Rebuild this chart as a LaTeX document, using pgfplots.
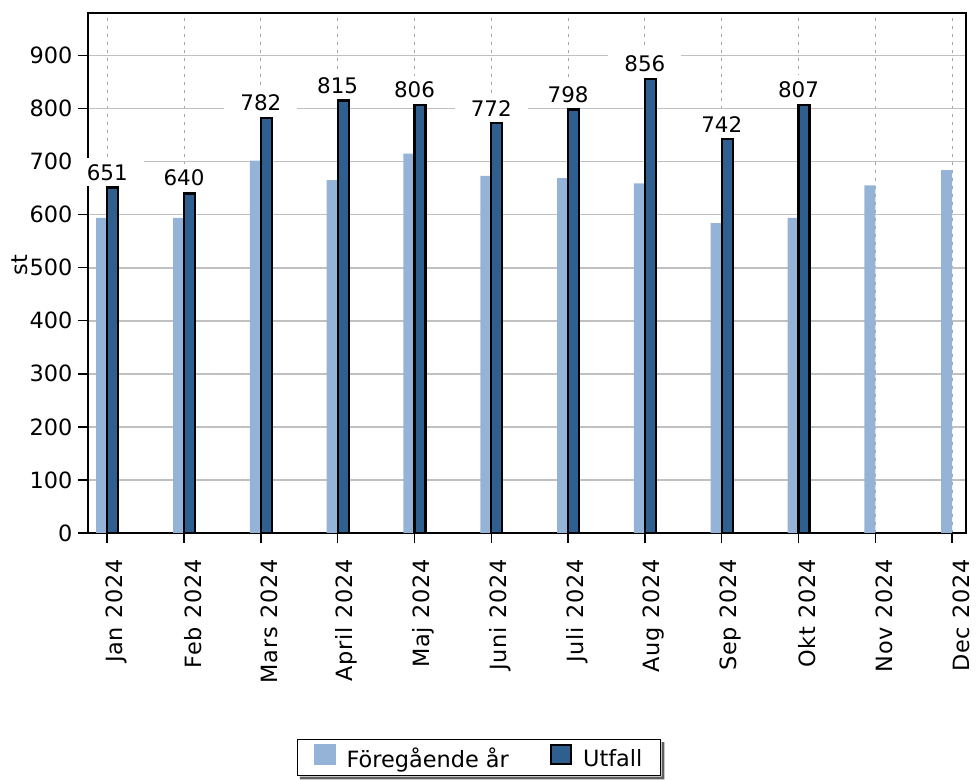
\documentclass[border=0pt]{standalone}
\usepackage{fontspec}
\setmainfont{DejaVu Sans}
\usepackage{pgfplots}
\pgfplotsset{compat=1.18}
\definecolor{lightbar}{RGB}{149,179,215}
\definecolor{darkbar}{RGB}{46,95,143}
\definecolor{gridgray}{RGB}{192,192,192}
\newcommand{\chfont}{\fontsize{22.5}{26}\selectfont}
\newcommand{\lbfont}{\fontsize{21.5}{25}\selectfont}
\newcommand{\xlfont}{\fontsize{22.5}{26}\selectfont\addfontfeature{LetterSpace=3.5}}
\begin{document}
\begin{tikzpicture}
\begin{axis}[
  name=ax,
  scale only axis, width=878bp, height=520bp,
  xmin=-0.25, xmax=11.18, ymin=0, ymax=980,
  ybar=0pt, bar width=11bp,
  xtick={0,...,11},
  xticklabels={Jan 2024,Feb 2024,Mars 2024,April 2024,Maj 2024,Juni 2024,Juli 2024,Aug 2024,Sep 2024,Okt 2024,Nov 2024,Dec 2024},
  ytick={0,100,...,900},
  xtick pos=left, ytick pos=left,
  tick align=outside, major tick length=10bp,
  tick style={black, line width=1.5bp},
  axis line style={black, line width=2.2bp},
  xmajorgrids, ymajorgrids,
  x grid style={gray!70, line width=1bp, dash pattern=on 3bp off 5bp},
  y grid style={gridgray, line width=1.7bp},
  /pgf/number format/assume math mode=true,
  /pgf/number format/1000 sep={},
  tick label style={font=\chfont},
  y tick label style={xshift=-2bp},
  x tick label style={xshift=9bp, yshift=-13bp, rotate=90, anchor=east, font=\xlfont},
  ylabel={st},
  ylabel style={at={(axis description cs:-0.0775,0.515)}, anchor=center, font=\chfont},
  legend style={name=leg, at={(0.4453,-0.4317)}, anchor=center, legend columns=2,
    draw=black, line width=1.2bp, fill=white, font=\chfont,
    /tikz/every odd column/.append style={column sep=9bp},
    /tikz/every even column/.append style={column sep=39bp},
    inner xsep=16bp, inner ysep=4bp},
  clip=false,
]
\addplot[fill=lightbar, draw=none,
  legend image code/.code={\fill[lightbar] (0bp,-6bp) rectangle (22bp,15bp);}]
  coordinates {(0,594) (1,594) (2,702) (3,665) (4,715) (5,673) (6,669) (7,659) (8,584) (9,594) (10,655) (11,684)};
\addlegendentry{Föregående år}
\addplot[fill=darkbar, draw=black, line width=2.2bp,
  legend image code/.code={\draw[fill=darkbar, draw=black, line width=2.2bp] (1bp,-5bp) rectangle (21bp,14bp);},
  nodes near coords,
  every node near coord/.style={fill=white, inner xsep=16bp, inner ysep=6bp, anchor=south, font=\lbfont, text=black, draw=none}]
  coordinates {(0,651) (1,640) (2,782) (3,815) (4,806) (5,772) (6,798) (7,856) (8,742) (9,807)};
\addlegendentry{Utfall}
\end{axis}
\fill[gray!75!black] ([shift={(3bp,-3.5bp)}]leg.south west) -- ([shift={(3.5bp,-3.5bp)}]leg.south east)
  -- ([shift={(3.5bp,-3bp)}]leg.north east) -- ([shift={(0.6bp,-3bp)}]leg.north east)
  -- ([shift={(0.6bp,-0.6bp)}]leg.south east) -- ([shift={(3bp,-0.6bp)}]leg.south west) -- cycle;
\pgfresetboundingbox
\path ([shift={(-88bp,-248bp)}]ax.south west) rectangle ([shift={(10bp,13bp)}]ax.north east);
\end{tikzpicture}
\end{document}
